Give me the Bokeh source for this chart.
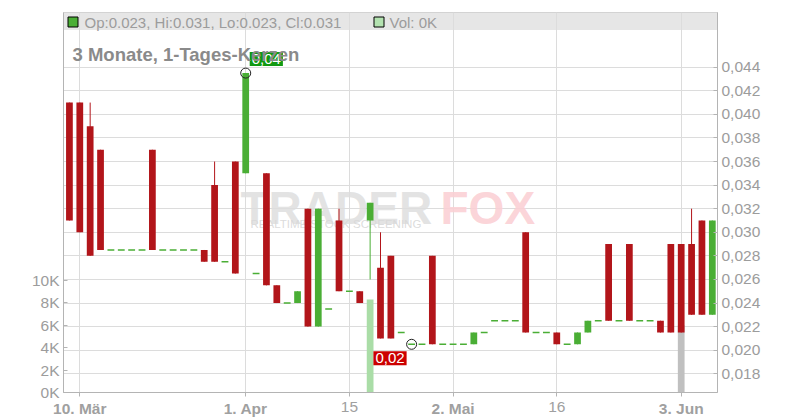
from bokeh.plotting import figure
from bokeh.models import (Range1d, LinearAxis, FixedTicker, CustomJSTickFormatter,
                          Label, BoxAnnotation)
from bokeh.embed import file_html
from bokeh.resources import INLINE

# ---------------- data ----------------
dates = ["2025-03-07", "2025-03-10", "2025-03-11", "2025-03-12", "2025-03-13", "2025-03-14",
         "2025-03-17", "2025-03-18", "2025-03-19", "2025-03-20", "2025-03-21",
         "2025-03-24", "2025-03-25", "2025-03-26", "2025-03-27", "2025-03-28",
         "2025-03-31", "2025-04-01", "2025-04-02", "2025-04-03", "2025-04-04",
         "2025-04-07", "2025-04-08", "2025-04-09", "2025-04-10", "2025-04-11",
         "2025-04-14", "2025-04-15", "2025-04-16", "2025-04-17",
         "2025-04-22", "2025-04-23", "2025-04-24", "2025-04-25",
         "2025-04-28", "2025-04-29", "2025-04-30", "2025-05-02",
         "2025-05-05", "2025-05-06", "2025-05-07", "2025-05-08", "2025-05-09",
         "2025-05-12", "2025-05-13", "2025-05-14", "2025-05-15", "2025-05-16",
         "2025-05-19", "2025-05-20", "2025-05-21", "2025-05-22", "2025-05-23",
         "2025-05-26", "2025-05-27", "2025-05-28", "2025-05-29", "2025-05-30",
         "2025-06-02", "2025-06-03", "2025-06-04", "2025-06-05", "2025-06-06"]

opens = [0.041, 0.041, 0.039, 0.037, 0.0285, 0.0285, 0.0285, 0.0285, 0.037, 0.0285,
         0.0285, 0.0285, 0.0285, 0.0285, 0.034, 0.0275, 0.036, 0.035, 0.0265, 0.035,
         0.0255, 0.024, 0.024, 0.032, 0.022, 0.0235, 0.031, 0.025, 0.025, 0.031,
         0.027, 0.028, 0.0215, 0.0205, 0.0205, 0.028, 0.0205, 0.0205, 0.0205, 0.0205,
         0.0215, 0.0225, 0.0225, 0.0225, 0.030, 0.0215, 0.0215, 0.0215, 0.0205, 0.0205,
         0.0215, 0.0225, 0.029, 0.0225, 0.029, 0.0225, 0.0225, 0.0225, 0.029, 0.029,
         0.029, 0.031, 0.023]
highs = [0.041, 0.041, 0.041, 0.037, 0.0285, 0.0285, 0.0285, 0.0285, 0.037, 0.0285,
         0.0285, 0.0285, 0.0285, 0.0285, 0.036, 0.0275, 0.036, 0.0435, 0.0265, 0.035,
         0.0255, 0.024, 0.025, 0.032, 0.032, 0.0235, 0.032, 0.025, 0.025, 0.0325,
         0.030, 0.028, 0.0215, 0.0205, 0.0205, 0.028, 0.0205, 0.0205, 0.0205, 0.0215,
         0.0215, 0.0225, 0.0225, 0.0225, 0.030, 0.0215, 0.0215, 0.0215, 0.0205, 0.0215,
         0.0225, 0.0225, 0.029, 0.0225, 0.029, 0.0225, 0.0225, 0.0225, 0.029, 0.029,
         0.032, 0.031, 0.031]
lows = [0.031, 0.030, 0.028, 0.0285, 0.0285, 0.0285, 0.0285, 0.0285, 0.0285, 0.0285,
        0.0285, 0.0285, 0.0285, 0.0275, 0.0275, 0.0275, 0.0265, 0.035, 0.0265, 0.0255,
        0.024, 0.024, 0.024, 0.022, 0.022, 0.0235, 0.025, 0.025, 0.024, 0.026,
        0.021, 0.021, 0.0215, 0.0205, 0.0205, 0.0205, 0.0205, 0.0205, 0.0205, 0.0205,
        0.0215, 0.0225, 0.0225, 0.0225, 0.0215, 0.0215, 0.0215, 0.0205, 0.0205, 0.0205,
        0.0215, 0.0225, 0.0225, 0.0225, 0.0225, 0.0225, 0.0225, 0.0215, 0.0215, 0.0215,
        0.023, 0.023, 0.023]
closes = [0.031, 0.030, 0.028, 0.0285, 0.0285, 0.0285, 0.0285, 0.0285, 0.0285, 0.0285,
          0.0285, 0.0285, 0.0285, 0.0275, 0.0275, 0.0275, 0.0265, 0.0435, 0.0265, 0.0255,
          0.024, 0.024, 0.025, 0.022, 0.032, 0.0235, 0.025, 0.025, 0.024, 0.0325,
          0.021, 0.021, 0.0215, 0.0205, 0.0205, 0.0205, 0.0205, 0.0205, 0.0205, 0.0215,
          0.0215, 0.0225, 0.0225, 0.0225, 0.0215, 0.0215, 0.0215, 0.0205, 0.0205, 0.0215,
          0.0225, 0.0225, 0.0225, 0.0225, 0.0225, 0.0225, 0.0225, 0.0215, 0.0215, 0.0215,
          0.023, 0.023, 0.031]
volumes = [0, 0, 0, 0, 0, 0, 0, 0, 0, 0,
           0, 0, 0, 0, 0, 0, 0, 0, 0, 0,
           0, 0, 0, 0, 0, 0, 0, 0, 0, 8300,
           0, 0, 0, 0, 0, 0, 0, 0, 0, 0,
           0, 0, 0, 0, 0, 0, 0, 0, 0, 0,
           0, 0, 0, 0, 0, 0, 0, 0, 0, 6000,
           0, 0, 0]

tick_dates = ["2025-03-10", "2025-04-01", "2025-04-15", "2025-05-02", "2025-05-16", "2025-06-03"]
tick_labels = ["10. Mär", "1. Apr", "15", "2. Mai", "16", "3. Jun"]
tick_bold = [True, True, False, True, False, True]
price_ticks = [0.018, 0.020, 0.022, 0.024, 0.026, 0.028, 0.030, 0.032,
               0.034, 0.036, 0.038, 0.040, 0.042, 0.044]
volume_ticks = [0, 2000, 4000, 6000, 8000, 10000]
chart_title = "3 Monate, 1-Tages-Kerzen"

# ---------------- style ----------------
FONT = "Liberation Sans"
RED = "#b2151a"
GREEN = "#4aae35"
VOL_UP = "#aadda7"
VOL_DOWN = "#f0b0b0"
VOL_FLAT = "#c0c0c0"
TXT = "#9c9c9c"
AXIS = "#b4b4b4"
GRID = "#dcdcdc"

W, H = 800, 420
# frame in picture pixels
FL, FR, FT, FB = 63, 717, 12, 392
X0, X1 = -0.572, 62.5
Y0, Y1 = 0.016413, 0.048639
V0, V1 = 0, 33929


def dx(px):
    return X0 + (px - FL) / (FR - FL) * (X1 - X0)


def dy(py):
    return Y0 + (FB - py) / (FB - FT) * (Y1 - Y0)


idx = list(range(len(dates)))
tick_idx = [dates.index(d) for d in tick_dates]

p = figure(width=W, height=H, output_backend="svg", toolbar_location=None,
           x_range=Range1d(X0, X1), y_range=Range1d(Y0, Y1),
           y_axis_location="right",
           min_border_left=FL, min_border_right=W - FR,
           min_border_top=FT, min_border_bottom=H - FB,
           background_fill_color="white", border_fill_color="white",
           outline_line_color="#cccccc")
p.extra_y_ranges = {"vol": Range1d(V0, V1)}

# price axis (right)
pax = p.yaxis[0]
pax.ticker = FixedTicker(ticks=price_ticks)
pax.formatter = CustomJSTickFormatter(code="return tick.toFixed(3).replace('.', ',');")

# volume axis (left)
vax = LinearAxis(y_range_name="vol", ticker=FixedTicker(ticks=volume_ticks),
                 formatter=CustomJSTickFormatter(code="return (tick/1000).toFixed(0) + 'K';"))
p.add_layout(vax, "left")

for ax in (pax, vax):
    ax.major_tick_in = 4
    ax.major_tick_out = 0
    ax.minor_tick_line_color = None
    ax.axis_line_color = AXIS
    ax.major_tick_line_color = AXIS
    ax.major_label_text_color = TXT
    ax.major_label_text_font = FONT
    ax.major_label_text_font_size = "15.5px"
    ax.major_label_standoff = 4

# date axis: bold labels for month starts
xax = p.xaxis[0]
xax.ticker = FixedTicker(ticks=tick_idx)
xax.major_label_overrides = {ti: (lab if b else "")
                             for ti, lab, b in zip(tick_idx, tick_labels, tick_bold)}
xax.major_label_text_font = FONT
xax.major_label_text_font_style = "bold"
xax.major_label_text_font_size = "15.5px"
xax.major_label_text_color = "#a0a0a0"
xax.major_label_standoff = 3
xax.major_tick_in = 0
xax.major_tick_out = 4
xax.minor_tick_line_color = None
xax.axis_line_color = AXIS
xax.major_tick_line_color = AXIS

# second date axis, pulled up onto the first one, for the plain day labels
plain_idx = [ti for ti, b in zip(tick_idx, tick_bold) if not b]
xax2 = LinearAxis(ticker=FixedTicker(ticks=plain_idx),
                  major_label_overrides={ti: lab for ti, lab, b in
                                         zip(tick_idx, tick_labels, tick_bold) if not b})
xax2.major_label_text_font = FONT
xax2.major_label_text_font_size = "15.5px"
xax2.major_label_text_color = "#a0a0a0"
xax2.major_label_standoff = -18
xax2.major_tick_in = 0
xax2.major_tick_out = 0
xax2.minor_tick_line_color = None
xax2.axis_line_color = None
xax2.major_tick_line_color = None
p.add_layout(xax2, "below")

p.xgrid.ticker = FixedTicker(ticks=tick_idx)
p.ygrid.ticker = FixedTicker(ticks=price_ticks)
p.xgrid.grid_line_color = GRID
p.ygrid.grid_line_color = GRID

# header band
p.add_layout(BoxAnnotation(bottom=dy(29.5), fill_color="#e6e6e6", fill_alpha=1.0,
                           line_color=None, level="image"))

# watermark
p.add_layout(Label(x=240 - FL, y=FB - 207, x_units="screen", y_units="screen",
                   text="TRADER", text_font=FONT, text_font_style="bold",
                   text_font_size="46px", text_color="#dedede", text_alpha=0.85,
                   text_baseline="alphabetic", level="underlay"))
p.add_layout(Label(x=440 - FL, y=FB - 207, x_units="screen", y_units="screen",
                   text="FOX", text_font=FONT, text_font_style="bold",
                   text_font_size="46px", text_color="#fbd0d4", text_alpha=0.9,
                   text_baseline="alphabetic", level="underlay"))
p.add_layout(Label(x=250 - FL, y=FB - 223.5, x_units="screen", y_units="screen",
                   text="REALTIME STOCK SCREENING", text_font=FONT,
                   text_font_size="11.5px", text_color="#d8d8d8", text_alpha=0.9,
                   text_baseline="alphabetic", level="underlay"))

# volume bars
vol_x, vol_top, vol_col = [], [], []
for i in idx:
    if volumes[i] > 0:
        prev = closes[i - 1] if i > 0 else closes[i]
        col = VOL_UP if closes[i] > prev else (VOL_DOWN if closes[i] < prev else VOL_FLAT)
        vol_x.append(i)
        vol_top.append(volumes[i])
        vol_col.append(col)
p.vbar(x=vol_x, top=vol_top, bottom=0, width=0.65, fill_color=vol_col,
       line_color=None, y_range_name="vol")

# candles
cx, clo, chi, ctop, cbot, ccol = [], [], [], [], [], []
dxs, dys = [], []
for i in idx:
    o, c = opens[i], closes[i]
    if o == c:
        dxs.append(i)
        dys.append(o)
    else:
        cx.append(i)
        clo.append(lows[i])
        chi.append(highs[i])
        ctop.append(max(o, c))
        cbot.append(min(o, c))
        ccol.append(GREEN if c > o else RED)

p.segment(x0=cx, x1=cx, y0=clo, y1=chi, line_color=ccol, line_width=1)
p.vbar(x=cx, top=ctop, bottom=cbot, width=0.65, fill_color=ccol, line_color=None)
p.segment(x0=[x - 0.33 for x in dxs], x1=[x + 0.33 for x in dxs], y0=dys, y1=dys,
          line_color=GREEN, line_width=1.5)

# high / low markers
hi_i = max(idx, key=lambda i: highs[i])
lo_i = min(idx, key=lambda i: lows[i])
p.scatter(x=[hi_i, lo_i], y=[highs[hi_i], lows[lo_i]], marker="circle", size=10,
          fill_color=None, line_color="#222222", line_width=1)
p.add_layout(Label(x=hi_i, y=highs[hi_i], x_offset=4, y_offset=7,
                   text=f"{highs[hi_i]:.2f}".replace(".", ","), text_font=FONT,
                   text_font_size="15px", text_color="white",
                   text_align="left", text_baseline="bottom",
                   background_fill_color="#119911", padding=2))
p.add_layout(Label(x=lo_i, y=lows[lo_i], x_offset=-5, y_offset=-7,
                   text=f"{lows[lo_i]:.2f}".replace(".", ","), text_font=FONT,
                   text_font_size="15px", text_color="white",
                   text_align="right", text_baseline="top",
                   background_fill_color="#cc0000", padding=2))

# header legend
last = len(idx) - 1
p.scatter(x=[dx(72.5), dx(378.5)], y=[dy(21.5), dy(21.5)], marker="square", size=10,
          fill_color=[GREEN, "#b3e2b0"], line_color="black", line_width=1)
p.add_layout(Label(x=84 - FL, y=FB - 21.5, x_units="screen", y_units="screen",
                   text=f"Op:{opens[last]:.3f}, Hi:{highs[last]:.3f}, "
                        f"Lo:{lows[last]:.3f}, Cl:{closes[last]:.3f}",
                   text_font=FONT, text_font_size="15px", text_color=TXT,
                   text_baseline="middle"))
p.add_layout(Label(x=389 - FL, y=FB - 21.5, x_units="screen", y_units="screen",
                   text=f"Vol: {volumes[last] / 1000:.0f}K",
                   text_font=FONT, text_font_size="15px", text_color=TXT,
                   text_baseline="middle"))

# title
p.add_layout(Label(x=72 - FL, y=FB - 54.3, x_units="screen", y_units="screen",
                   text=chart_title, text_font=FONT, text_font_style="bold",
                   text_font_size="18.5px", text_color="#8a8a8a",
                   text_baseline="alphabetic"))

open("out.html", "w").write(file_html(p, INLINE))
